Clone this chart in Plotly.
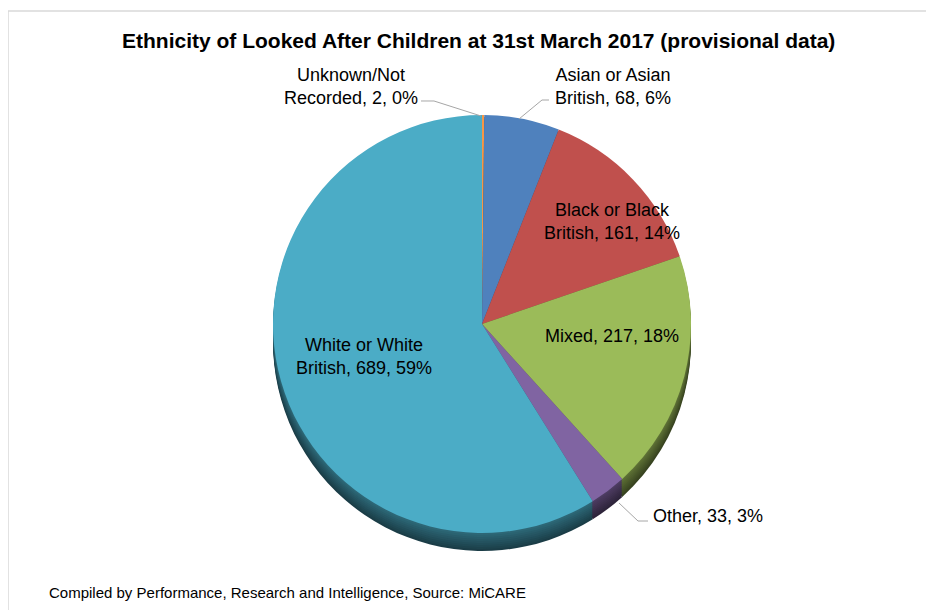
import plotly.graph_objects as go

# ---- data ----
categories = ["Unknown/Not Recorded", "Asian or Asian British", "Black or Black British",
              "Mixed", "Other", "White or White British"]
values = [2, 68, 161, 217, 33, 689]
pct_labels = ["0%", "6%", "14%", "18%", "3%", "59%"]
colors = ["#F79646", "#4F81BD", "#C0504D", "#9BBB59", "#8064A2", "#4BACC6"]

W, H = 934, 610
OFF = 8  # page body margin
FONT = "Arial, Liberation Sans, sans-serif"


def px(x):
    return (x - OFF) / W


def py(y):
    return 1 - (y - OFF) / H


def darken(hexc, f):
    h = hexc.lstrip("#")
    r, g, b = (int(h[i:i + 2], 16) for i in (0, 2, 4))
    return "#%02x%02x%02x" % (int(r * f), int(g * f), int(b * f))


CX, CY, R, DEPTH = 482, 324, 209, 18


def domain(dy):
    cy = CY + dy
    return dict(x=[px(CX - 300), px(CX + 300)], y=[py(cy + R), py(cy - R)])


fig = go.Figure()

# side wall (3D depth) layers, deepest first
steps = list(range(DEPTH, 0, -2))
for i, d in enumerate(steps):
    f = 0.36 + 0.24 * i / max(1, len(steps) - 1)
    fig.add_trace(go.Pie(
        labels=categories, values=values, sort=False, direction="clockwise", rotation=0,
        marker=dict(colors=[darken(c, f) for c in colors], line=dict(width=0)),
        textinfo="none", hoverinfo="skip", showlegend=False, domain=domain(d)))

# top face
fig.add_trace(go.Pie(
    labels=categories, values=values, sort=False, direction="clockwise", rotation=0,
    marker=dict(colors=colors, line=dict(width=0)),
    textinfo="none", showlegend=False, domain=domain(0),
    customdata=pct_labels,
    hovertemplate="%{label}, %{value}, %{customdata}<extra></extra>"))

# data labels
label_text = [
    "Unknown/Not<br>Recorded, %d, %s" % (values[0], pct_labels[0]),
    "Asian or Asian<br>British, %d, %s" % (values[1], pct_labels[1]),
    "Black or Black<br>British, %d, %s" % (values[2], pct_labels[2]),
    "Mixed, %d, %s" % (values[3], pct_labels[3]),
    "Other, %d, %s" % (values[4], pct_labels[4]),
    "White or White<br>British, %d, %s" % (values[5], pct_labels[5]),
]
label_pos = [(351, 87, "center"), (613, 87, "center"), (612, 221, "center"),
             (612, 336, "center"), (651, 516, "left"), (364, 356, "center")]

annotations = []
for t, (x, y, al) in zip(label_text, label_pos):
    annotations.append(dict(
        text=t, x=px(x), y=py(y), xref="paper", yref="paper",
        xanchor="left" if al == "left" else "center", yanchor="middle",
        showarrow=False, align="center",
        font=dict(family=FONT, size=18, color="#000000")))

annotations.append(dict(
    text="<b>Ethnicity of Looked After Children at 31st March 2017 (provisional data)</b>",
    x=px(478), y=py(41), xref="paper", yref="paper", xanchor="center", yanchor="middle",
    showarrow=False, font=dict(family=FONT, size=21, color="#000000")))
annotations.append(dict(
    text="Compiled by Performance, Research and Intelligence, Source: MiCARE",
    x=px(47), y=py(592), xref="paper", yref="paper", xanchor="left", yanchor="middle",
    showarrow=False, font=dict(family=FONT, size=15, color="#000000")))


def path(points):
    s = "M %f,%f" % (px(points[0][0]), py(points[0][1]))
    for p in points[1:]:
        s += " L %f,%f" % (px(p[0]), py(p[1]))
    return s


line_style = dict(color="#A6A6A6", width=1)
shapes = [
    # chart border
    dict(type="rect", xref="paper", yref="paper", x0=px(8), y0=py(11), x1=px(W + 20), y1=py(H + 20),
         line=dict(color="#D9D9D9", width=1.5), fillcolor="rgba(0,0,0,0)", layer="below"),
    dict(type="path", xref="paper", yref="paper", path=path([(421, 101), (434, 101), (481, 116)]),
         line=line_style),
    dict(type="path", xref="paper", yref="paper", path=path([(549, 100), (542, 100), (519, 119)]),
         line=line_style),
    dict(type="path", xref="paper", yref="paper", path=path([(648, 521), (638, 521), (619, 503)]),
         line=line_style),
]

fig.update_layout(
    width=W, height=H, margin=dict(l=0, r=0, t=0, b=0),
    paper_bgcolor="#FFFFFF", plot_bgcolor="#FFFFFF",
    annotations=annotations, shapes=shapes, showlegend=False,
)

fig.write_html("out.html")
